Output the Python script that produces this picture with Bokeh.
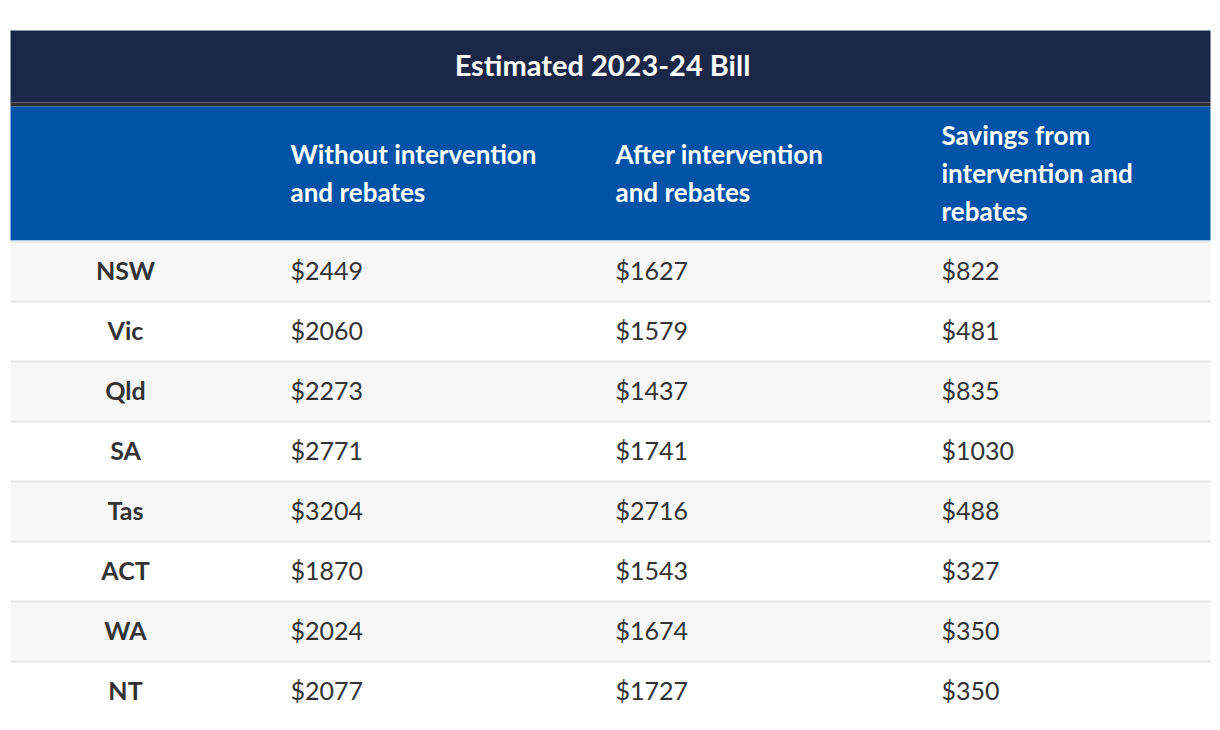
from bokeh.plotting import figure
from bokeh.models import Range1d
from bokeh.core.properties import value
from bokeh.embed import file_html
from bokeh.resources import INLINE

# ---- data ----
title = "Estimated 2023-24 Bill"
states = ["NSW", "Vic", "Qld", "SA", "Tas", "ACT", "WA", "NT"]
without_intervention = [2449, 2060, 2273, 2771, 3204, 1870, 2024, 2077]
after_intervention = [1627, 1579, 1437, 1741, 2716, 1543, 1674, 1727]
savings = [822, 481, 835, 1030, 488, 327, 350, 350]
col_headers = [
    ["Without intervention", "and rebates"],
    ["After intervention", "and rebates"],
    ["Savings from", "intervention and", "rebates"],
]

FONT = "Lato"
W, H = 1216, 726
p = figure(width=W, height=H, output_backend="svg", toolbar_location=None,
           x_range=Range1d(0, W), y_range=Range1d(H, 0),
           min_border=0, outline_line_color=None, background_fill_color="white")
p.axis.visible = False
p.grid.visible = False

L, R = 10, 1210
# title band
p.quad(left=[L], right=[R], top=[30], bottom=[102], fill_color="#1b2746", line_color=None)
p.quad(left=[L], right=[R], top=[102], bottom=[106], fill_color="#2e2f33", line_color=None)
# header band
p.quad(left=[L], right=[R], top=[106], bottom=[240], fill_color="#0053a6", line_color=None)

# rows
row_h = 60
top0 = 242
n = len(states)
tops = [top0 + i * row_h for i in range(n)]
fills = ["#f7f7f7" if i % 2 == 0 else "#ffffff" for i in range(n)]
p.quad(left=[L] * n, right=[R] * n, top=tops, bottom=[t + row_h - 2 for t in tops],
       fill_color=fills, line_color=None)
# separators
seps = [240] + [t + row_h - 2 for t in tops[:-1]]
p.quad(left=[L] * len(seps), right=[R] * len(seps), top=seps, bottom=[s + 2 for s in seps],
       fill_color="#e6e6e6", line_color=None)

# title text
p.text(x=[602], y=[64], text=[title], text_color="white", text_font=value(FONT),
       text_font_style="bold", text_font_size="29px", text_align="center",
       text_baseline="middle")

# column headers
col_x = [290, 615, 941]
hx, hy, ht = [], [], []
for cx, lines in zip(col_x, col_headers):
    m = len(lines)
    for j, ln in enumerate(lines):
        hx.append(cx)
        hy.append(172 + (j - (m - 1) / 2) * 38)
        ht.append(ln)
p.text(x=hx, y=hy, text=ht, text_color="white", text_font=value(FONT),
       text_font_style="bold", text_font_size="26px", text_align="left",
       text_baseline="middle")

# body
cy = [t + (row_h - 2) / 2 - 2 for t in tops]
p.text(x=[125] * n, y=cy, text=states, text_color="#333333", text_font=value(FONT),
       text_font_style="bold", text_font_size="25px", text_align="center",
       text_baseline="middle")
for cx, vals in zip(col_x, [without_intervention, after_intervention, savings]):
    p.text(x=[cx] * n, y=cy, text=[f"${v}" for v in vals], text_color="#333333",
           text_font=value(FONT), text_font_size="25px", text_align="left",
           text_baseline="middle")

open("out.html", "w").write(file_html(p, INLINE))
